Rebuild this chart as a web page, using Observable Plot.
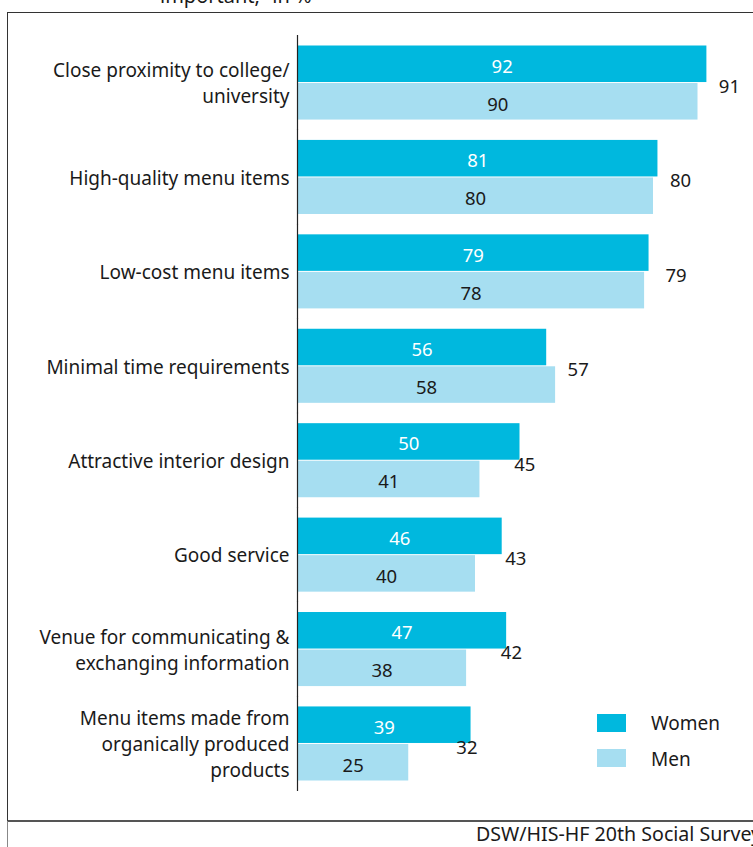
<!DOCTYPE html>
<html>
<head>
<meta charset="utf-8">
<script src="https://cdn.jsdelivr.net/npm/d3@7"></script>
<script src="https://cdn.jsdelivr.net/npm/@observablehq/plot@0.6"></script>
<style>
  html, body { margin: 0; padding: 0; background: #fff; }
  body { width: 753px; height: 847px; overflow: hidden; position: relative; font-family: "Noto Sans", sans-serif; color: #1a1a1a; }
  #frame { position: absolute; left: 7px; top: 12px; width: 800px; height: 807px; border-left: 1px solid #333; border-top: 1px solid #333; border-bottom: 2px solid #555; }
  #frame2 { position: absolute; left: 7px; top: 821px; width: 1px; height: 30px; background: #888; }
  #chart { position: absolute; left: 8px; top: 13px; }
  #sub { position: absolute; left: 160px; top: -14px; font-size: 20px; line-height: 20px; white-space: nowrap; }
  #cap { position: absolute; left: 476px; top: 822px; font-size: 19.6px; line-height: 24px; white-space: nowrap; }
  .sw { position: absolute; left: 597px; width: 29px; height: 18px; }
  .lt { position: absolute; left: 651px; font-size: 19px; line-height: 20px; }
</style>
</head>
<body>
<div id="sub">important,“ in %</div>
<div id="frame"></div>
<div id="frame2"></div>
<div id="chart"></div>
<div class="sw" style="top:714px;background:#00b8de"></div>
<div class="lt" style="top:713px">Women</div>
<div class="sw" style="top:749px;background:#a6def1"></div>
<div class="lt" style="top:749px">Men</div>
<div id="cap">DSW/HIS-HF 20th Social Survey</div>
<script>
const categories = [
  "Close proximity to college/\nuniversity",
  "High-quality menu items",
  "Low-cost menu items",
  "Minimal time requirements",
  "Attractive interior design",
  "Good service",
  "Venue for communicating &\nexchanging information",
  "Menu items made from\norganically produced\nproducts"
];
const series = ["Women", "Men"];
const women = [92, 81, 79, 56, 50, 46, 47, 39];
const men = [90, 80, 78, 58, 41, 40, 38, 25];
const total = [91, 80, 79, 57, 45, 43, 42, 32];
const colors = ["#00b8de", "#a6def1"];

const rows = [];
categories.forEach((c, i) => {
  rows.push({cat: c, sex: "Women", value: women[i]});
  rows.push({cat: c, sex: "Men", value: men[i]});
});
const totals = categories.map((c, i) => ({cat: c, total: total[i]}));

const chart = Plot.plot({
  width: 745,
  height: 807,
  marginLeft: 289,
  marginRight: 11,
  marginTop: 32,
  marginBottom: 39,
  style: {fontFamily: "Noto Sans, sans-serif", color: "#1a1a1a", background: "transparent"},
  x: {domain: [0, 100], axis: null},
  y: {domain: series, paddingInner: 0, paddingOuter: 0, round: false, axis: null},
  fy: {domain: categories, paddingInner: 0.205, paddingOuter: 0, round: false, axis: null},
  color: {domain: series, range: colors},
  marks: [
    Plot.barX(rows, {fy: "cat", y: "sex", x: "value", fill: "sex", insetTop: 0.5, insetBottom: 0.5}),
    Plot.text(rows.filter(d => d.sex === "Women"), {fy: "cat", y: "sex", x: d => d.value / 2, text: d => String(d.value), fill: "white", fontSize: 18.5, dy: 2.5}),
    Plot.text(rows.filter(d => d.sex === "Men"), {fy: "cat", y: "sex", x: d => d.value / 2, text: d => String(d.value), fill: "#1a1a1a", fontSize: 18.5, dy: 3}),
    Plot.text(totals, {fy: "cat", x: "total", text: d => String(d.total), dx: 27, dy: 4, fill: "#1a1a1a", fontSize: 18.5}),
    Plot.text(categories, {fy: d => d, text: d => d, frameAnchor: "left", textAnchor: "end", dx: -8, dy: -1, lineHeight: 1.37, fontSize: 19, fill: "#1a1a1a"}),
    Plot.ruleX([0], {insetTop: -10, insetBottom: -10, stroke: "#222", strokeWidth: 1.2})
  ]
});
document.getElementById("chart").appendChild(chart);
</script>
</body>
</html>
